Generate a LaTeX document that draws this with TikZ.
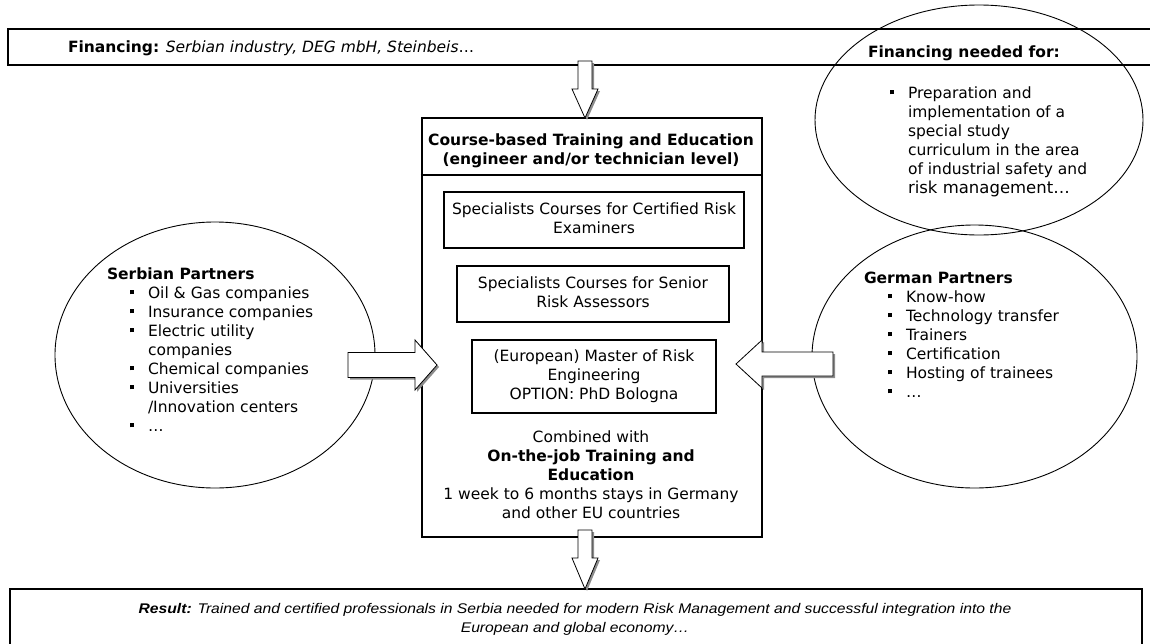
\documentclass[tikz,border=0pt]{standalone}
\usepackage{fontspec}
\setmainfont{DejaVu Sans}
\newfontfamily\widefont[FakeStretch=1.12]{Liberation Sans}
\usetikzlibrary{shapes.geometric,calc}
\tikzset{
  thickbox/.style={line width=2.6pt},
  innerbox/.style={draw, line width=1.1pt, inner sep=0pt, align=center},
  oval/.style={draw, ellipse, line width=0.9pt, inner sep=0pt},
  barrow/.style={fill=white, draw=black, line width=0.8pt, line join=miter},
  bshadow/.style={fill=black!45},
  txt/.style={inner sep=0pt, outer sep=0pt, font=\fontsize{15.5}{19}\selectfont},
}
\newcommand\bul{\makebox[18pt][l]{\rule[3.7pt]{4pt}{4pt}}}
\newcommand\nobul{\hphantom{\bul}}
\newcommand\lines[2]{\begin{tabular}[t]{@{}#1@{}}#2\end{tabular}}
\newcommand\barr[2]{\fill[bshadow] ($(#1)+(2,2)$) #2; \filldraw[barrow] (#1) #2;}
\begin{document}
\begin{tikzpicture}[x=1pt,y=-1pt]
\useasboundingbox (0,0) rectangle (1150,643);
\clip (0,0) rectangle (1150,643);
% top financing band
\draw[thickbox] (1160,29) -- (8,29) -- (8,65) -- (1160,65);
% ellipses
\node[oval, minimum width=328pt, minimum height=230pt] (need) at (979,120) {};
\node[oval, minimum width=325pt, minimum height=263pt] (ger) at (974.5,356.5) {};
\node[oval, minimum width=320pt, minimum height=266pt] (serb) at (215,355) {};
% main box
\node[draw, thickbox, minimum width=340pt, minimum height=419pt, inner sep=0pt] (main) at (592,327.5) {};
\coordinate (hd) at (592,175);
\draw[line width=1.3pt] (main.west |- hd) -- (main.east |- hd);
% inner boxes
\node[innerbox, txt, minimum width=300pt, minimum height=56pt] (c1) at (594,220)
  {\lines{c}{Specialists Courses for Certified Risk\\Examiners}};
\node[innerbox, txt, minimum width=272pt, minimum height=56pt] (c2) at (593,294)
  {\lines{c}{Specialists Courses for Senior\\Risk Assessors}};
\node[innerbox, txt, minimum width=244pt, minimum height=73pt] (c3) at (594,376.5)
  {\lines{c}{(European) Master of Risk\\Engineering\\OPTION: PhD Bologna}};
% result band
\draw[thickbox] (10,660) -- (10,589) -- (1142,589) -- (1142,660);
% block arrows
\coordinate (tipT) at (585,118);
\coordinate (tipB) at (585,589);
\coordinate (tipL) at (437,365);
\coordinate (tipR) at (736,364);
\barr{tipT}{-- ++(-13,-29) -- ++(6,0) -- ++(0,-28) -- ++(14,0) -- ++(0,28) -- ++(6,0) -- cycle}
\barr{tipB}{-- ++(-13,-31) -- ++(6,0) -- ++(0,-28) -- ++(14,0) -- ++(0,28) -- ++(6,0) -- cycle}
\barr{tipL}{-- ++(-22,-25) -- ++(0,12.5) -- ++(-67,0) -- ++(0,25) -- ++(67,0) -- ++(0,12.5) -- cycle}
\barr{tipR}{-- ++(26,-24) -- ++(0,12) -- ++(71,0) -- ++(0,24) -- ++(-71,0) -- ++(0,12) -- cycle}
% texts
\node[txt, anchor=base west] (fin) at (68,52)
  {\textbf{Financing:} \textit{Serbian industry, DEG mbH, Steinbeis}…};
\node[txt, anchor=base west] (needh) at (868,57) {\textbf{Financing needed for:}};
\node[txt, anchor=base west] (needl) at (890,98)
  {\lines{l}{\bul Preparation and\\
  \nobul implementation of a\\
  \nobul special study\\
  \nobul curriculum in the area\\
  \nobul of industrial safety and\\
  \nobul{\fontsize{16.5}{19}\selectfont risk management…}}};
\node[txt, anchor=base, font=\fontsize{15.5}{19}\selectfont\bfseries] (head) at (591,145)
  {\lines{c}{Course-based Training and Education\\(engineer and/or technician level)}};
\node[txt, anchor=base] (comb) at (591,442)
  {\lines{c}{Combined with\\
  \textbf{On-the-job Training and}\\
  \textbf{Education}\\
  1 week to 6 months stays in Germany\\
  and other EU countries}};
\node[txt, anchor=base west] (serbt) at (107,279)
  {\lines{l}{\textbf{Serbian Partners}\\
  \hspace{23pt}\bul Oil \& Gas companies\\
  \hspace{23pt}\bul Insurance companies\\
  \hspace{23pt}\bul Electric utility\\
  \hspace{23pt}\nobul companies\\
  \hspace{23pt}\bul Chemical companies\\
  \hspace{23pt}\bul Universities\\
  \hspace{23pt}\nobul /Innovation centers\\
  \hspace{23pt}\bul …}};
\node[txt, anchor=base west] (gert) at (864,283)
  {\lines{l}{\textbf{German Partners}\\
  \hspace{24pt}\bul Know-how\\
  \hspace{24pt}\bul Technology transfer\\
  \hspace{24pt}\bul Trainers\\
  \hspace{24pt}\bul Certification\\
  \hspace{24pt}\bul Hosting of trainees\\
  \hspace{24pt}\bul …}};
\node[txt, anchor=base, font=\fontsize{14}{19}\widefont\itshape] (res) at (575,613)
  {\lines{c}{\textbf{Result:} Trained and certified professionals in Serbia needed for modern Risk Management and successful integration into the\\
  European and global economy…}};
\end{tikzpicture}
\end{document}
